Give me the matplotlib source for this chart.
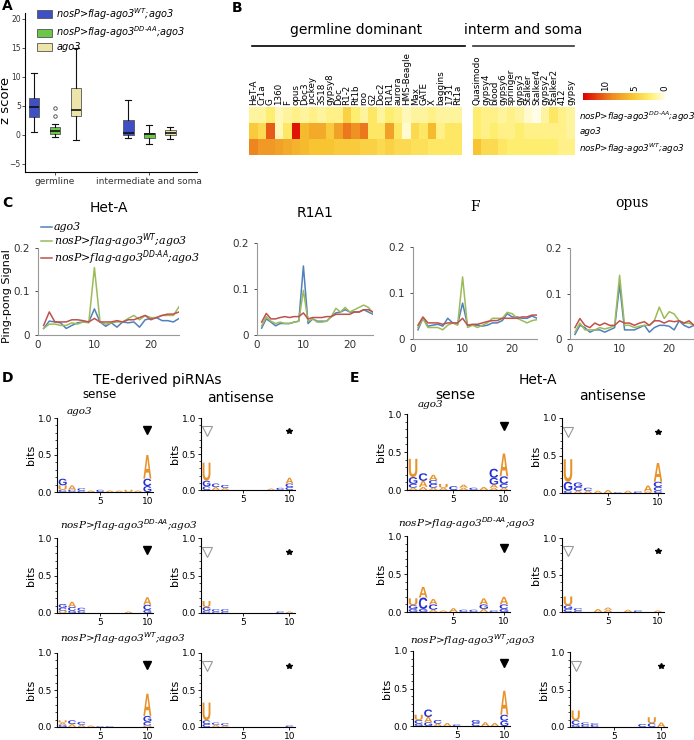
import numpy as np
import matplotlib
matplotlib.use('Agg')
import matplotlib.pyplot as plt
import matplotlib.transforms as mtransforms
from matplotlib.colors import LinearSegmentedColormap
from matplotlib.textpath import TextPath
from matplotlib.patches import PathPatch
from matplotlib.font_manager import FontProperties
from matplotlib.lines import Line2D

W, H = 694, 740

# ---------------- panel A data ----------------
box_groups = ['germline', 'intermediate and soma']
box_series = ['nosP>flag-ago3$^{WT}$;ago3', 'nosP>flag-ago3$^{DD\\text{-}AA}$;ago3', 'ago3']
box_colors = ['#3f4fc6', '#6cc748', '#ece4a8']
# whislo, q1, med, q3, whishi  (germline then interm)
box_wt = [[0.5, 3.1, 4.8, 6.3, 10.7], [-0.5, -0.1, 0.3, 2.5, 6.0]]
box_ddaa = [[-0.4, 0.1, 0.7, 1.3, 1.9], [-1.5, -0.5, 0.1, 0.4, 1.7]]
box_ago3 = [[-0.9, 3.2, 4.2, 8.1, 14.9], [-0.7, -0.1, 0.3, 0.9, 1.4]]
box_fliers_ddaa = [[3.2, 4.6], []]

# ---------------- panel B data ----------------
germ_tes = ['HeT-A', 'Cr1a', 'G', '1360', 'F', 'opus', 'Doc3', 'jockey', '3S18', 'gypsy8',
            'Doc', 'R1-2', 'Rt1b', 'roo', 'G2', 'Doc2', 'R1A1', 'aurora', 'HMS-Beagle',
            'Max', 'GATE', 'X', 'baggins', '1731', 'Rt1a']
soma_tes = ['Quasimodo', 'gypsy4', 'blood', 'gypsy6', 'springer', 'gypsy3', 'Stalker',
            'Stalker4', 'gypsy2', 'Stalker2', '412', 'gypsy']
heat_rows = ['nosP>flag-ago3$^{DD\\text{-}AA}$;ago3', 'ago3', 'nosP>flag-ago3$^{WT}$;ago3']
germ_ddaa = [1.5, 1.5, 2.5, 1.0, 1.5, 2.0, 1.5, 2.0, 1.5, 2.0, 2.0, 4.5, 2.5, 1.5, 3.0,
             1.5, 2.5, 2.0, 1.0, 1.5, 1.5, 2.0, 1.5, 1.5, 1.5]
germ_ago3 = [5.0, 4.0, 10.5, 1.0, 3.0, 13.0, 6.0, 7.0, 7.0, 5.0, 7.5, 9.5, 8.5, 9.5, 3.0,
             3.0, 7.5, 3.0, 0.5, 4.0, 3.0, 6.0, 2.0, 3.0, 3.0]
germ_wt = [9.0, 8.0, 8.0, 7.5, 7.0, 6.5, 6.0, 5.5, 5.5, 5.5, 5.0, 5.0, 5.0, 4.5, 4.5,
           4.0, 4.5, 4.0, 4.0, 3.5, 3.5, 3.0, 3.0, 3.0, 3.0]
soma_ddaa = [2.5, 2.0, 2.0, 1.5, 2.0, 1.5, 0.5, 0.0, 1.5, 3.0, 2.0, 1.5]
soma_ago3 = [2.5, 2.0, 2.5, 2.0, 2.0, 2.5, 2.0, 2.0, 2.0, 2.0, 2.0, 1.5]
soma_wt = [5.5, 4.0, 4.0, 3.0, 2.5, 2.5, 2.5, 2.5, 2.5, 2.5, 2.0, 2.0]
heat_ticks = [10, 5, 0]

# ---------------- panel C data ----------------
pp_pos = list(range(1, 26))
pp_titles = ['Het-A', 'R1A1', 'F', 'opus']
pp_labels = ['ago3', 'nosP>flag-ago3$^{WT}$;ago3', 'nosP>flag-ago3$^{DD\\text{-}AA}$;ago3']
hetA_ago3 = [0.015, 0.032, 0.030, 0.028, 0.015, 0.022, 0.028, 0.030, 0.030, 0.060, 0.030, 0.020, 0.028,
             0.018, 0.030, 0.028, 0.030, 0.018, 0.035, 0.038, 0.040, 0.033, 0.033, 0.030, 0.038]
hetA_wt = [0.015, 0.025, 0.025, 0.022, 0.022, 0.028, 0.025, 0.030, 0.028, 0.155, 0.030, 0.025, 0.028,
           0.030, 0.030, 0.038, 0.045, 0.035, 0.045, 0.040, 0.040, 0.045, 0.045, 0.045, 0.065]
hetA_ddaa = [0.022, 0.053, 0.030, 0.030, 0.030, 0.035, 0.035, 0.033, 0.030, 0.038, 0.030, 0.030, 0.030,
             0.033, 0.030, 0.035, 0.035, 0.040, 0.045, 0.035, 0.040, 0.045, 0.048, 0.048, 0.053]
r1a1_ago3 = [0.015, 0.035, 0.028, 0.020, 0.025, 0.025, 0.025, 0.028, 0.030, 0.150, 0.025, 0.035, 0.030,
             0.030, 0.030, 0.040, 0.048, 0.050, 0.055, 0.050, 0.050, 0.050, 0.055, 0.050, 0.045]
r1a1_wt = [0.020, 0.040, 0.030, 0.025, 0.028, 0.025, 0.025, 0.028, 0.030, 0.097, 0.030, 0.035, 0.028,
           0.028, 0.030, 0.040, 0.058, 0.050, 0.060, 0.050, 0.055, 0.060, 0.065, 0.060, 0.048]
r1a1_ddaa = [0.028, 0.047, 0.035, 0.035, 0.038, 0.040, 0.038, 0.040, 0.040, 0.048, 0.035, 0.038, 0.038,
             0.038, 0.040, 0.040, 0.045, 0.045, 0.045, 0.045, 0.050, 0.050, 0.055, 0.055, 0.050]
f_ago3 = [0.020, 0.045, 0.028, 0.030, 0.032, 0.028, 0.045, 0.035, 0.032, 0.078, 0.030, 0.030, 0.030,
          0.028, 0.030, 0.035, 0.035, 0.040, 0.055, 0.048, 0.048, 0.045, 0.045, 0.050, 0.045]
f_wt = [0.025, 0.045, 0.025, 0.025, 0.025, 0.020, 0.030, 0.035, 0.030, 0.135, 0.025, 0.030, 0.025,
        0.030, 0.035, 0.045, 0.045, 0.045, 0.058, 0.055, 0.045, 0.040, 0.035, 0.040, 0.042]
f_ddaa = [0.030, 0.048, 0.035, 0.035, 0.035, 0.032, 0.035, 0.035, 0.035, 0.045, 0.030, 0.032, 0.032,
          0.035, 0.038, 0.040, 0.040, 0.045, 0.045, 0.045, 0.045, 0.048, 0.048, 0.052, 0.052]
opus_ago3 = [0.010, 0.030, 0.025, 0.015, 0.020, 0.020, 0.015, 0.020, 0.025, 0.120, 0.020, 0.020, 0.020,
             0.025, 0.030, 0.015, 0.025, 0.030, 0.030, 0.028, 0.020, 0.040, 0.030, 0.025, 0.030]
opus_wt = [0.015, 0.035, 0.020, 0.020, 0.020, 0.025, 0.022, 0.025, 0.030, 0.140, 0.030, 0.030, 0.025,
           0.028, 0.030, 0.030, 0.040, 0.070, 0.045, 0.060, 0.055, 0.040, 0.035, 0.035, 0.030]
opus_ddaa = [0.025, 0.045, 0.030, 0.025, 0.035, 0.030, 0.035, 0.030, 0.030, 0.040, 0.035, 0.035, 0.030,
             0.035, 0.038, 0.030, 0.040, 0.040, 0.035, 0.040, 0.038, 0.040, 0.035, 0.040, 0.030]

# ---------------- panels D/E data: logo stacks (letter, bits), bottom to top ----------------
logo_rows = ['ago3', 'nosP>flag-ago3$^{DD\\text{-}AA}$;ago3', 'nosP>flag-ago3$^{WT}$;ago3']
d_sense_ago3 = [[('C', .03), ('U', .06), ('G', .09)], [('C', .03), ('A', .06)], [('C', .02), ('C', .03)],
                [('A', .02)], [('C', .03)], [('A', .02)], [('A', .02)], [('U', .03)], [('A', .02)],
                [('G', .08), ('C', .1), ('A', .32)]]
d_anti_ago3 = [[('C', .05), ('G', .08), ('U', .25)], [('A', .04), ('C', .05)], [('A', .03), ('C', .04)],
               [], [], [], [], [('A', .02)], [('C', .03)], [('C', .04), ('C', .05), ('A', .08)]]
d_sense_ddaa = [[('U', .03), ('C', .04), ('G', .05)], [('G', .03), ('C', .05), ('A', .07)],
                [('C', .03), ('C', .04)], [], [], [], [], [('A', .02)], [],
                [('G', .04), ('C', .07), ('A', .1)]]
d_anti_ddaa = [[('C', .03), ('G', .05), ('U', .08)], [('C', .02), ('C', .03)], [('C', .02), ('C', .03)],
               [], [], [], [], [], [('C', .02)], [('A', .02)]]
d_sense_wt = [[('G', .03), ('A', .03), ('U', .03)], [('A', .04), ('C', .05)], [('A', .03), ('C', .04)],
              [('A', .02)], [('C', .01)], [('C', .01)], [], [], [],
              [('U', .02), ('C', .05), ('G', .08), ('A', .3)]]
d_anti_wt = [[('C', .04), ('C', .05), ('U', .24)], [('A', .03), ('C', .03)], [('A', .02), ('C', .03)],
             [], [], [], [], [], [], [('C', .02)]]
e_sense_ago3 = [[('A', .03), ('C', .05), ('G', .09), ('U', .24)], [('A', .04), ('A', .08), ('C', .1)],
                [('A', .03), ('C', .05), ('C', .05), ('A', .07)], [('A', .03), ('U', .05)], [('C', .05)],
                [('A', .03), ('A', .04)], [('C', .03)], [('A', .04)],
                [('A', .03), ('A', .04), ('G', .09), ('C', .12)], [('A', .03), ('C', .05), ('C', .1), ('A', .3)]]
e_anti_ago3 = [[('C', .03), ('G', .12), ('U', .3)], [('A', .03), ('C', .05), ('G', .06)],
               [('A', .03), ('C', .04)], [('A', .03)], [('A', .04)], [('C', .01)], [('A', .03)], [('C', .02)],
               [('A', .02), ('A', .08)], [('C', .03), ('C', .05), ('C', .07), ('A', .25)]]
e_sense_ddaa = [[('G', .04), ('G', .05), ('U', .09)], [('G', .04), ('C', .15), ('A', .14)],
                [('A', .03), ('C', .07), ('A', .07)], [('A', .02)], [('A', .05)], [('C', .03)],
                [('C', .03)], [('A', .04), ('G', .06), ('A', .08)], [('C', .02)],
                [('G', .04), ('C', .06), ('A', .1)]]
e_anti_ddaa = [[('C', .04), ('G', .05), ('U', .12)], [('C', .02), ('C', .03)], [], [('A', .04)],
               [('A', .03), ('A', .03)], [], [('A', .03)], [('C', .02)], [], [('A', .02)]]
e_sense_wt = [[('G', .03), ('C', .05), ('U', .07)], [('G', .05), ('A', .07), ('C', .1)],
              [('A', .03), ('C', .05)], [('A', .04)], [('C', .02)], [], [('C', .04), ('G', .04)],
              [('A', .05)], [('A', .04)], [('G', .07), ('C', .08), ('A', .32)]]
e_anti_wt = [[('G', .03), ('C', .06), ('U', .13)], [('C', .03), ('C', .03)], [('C', .03), ('C', .02)],
             [], [], [], [], [('C', .04)], [('C', .05), ('U', .08)], [('A', .06)]]


def px(l, t, r, b):
    return [l / W, 1 - b / H, (r - l) / W, (b - t) / H]


fig = plt.figure(figsize=(W / 100, H / 100), dpi=100)
sans = 'DejaVu Sans'

# ---------------- A ----------------
axA = fig.add_axes(px(25, 13, 197, 172))
pos_groups = [[-1, 0, 1], [3.48, 4.48, 5.48]]
for gi in range(2):
    for si, (vals, col) in enumerate(zip([box_wt, box_ddaa, box_ago3], box_colors)):
        lo, q1, med, q3, hi = vals[gi]
        fl = box_fliers_ddaa[gi] if si == 1 else []
        st = dict(whislo=lo, q1=q1, med=med, q3=q3, whishi=hi, fliers=fl)
        axA.bxp([st], positions=[pos_groups[gi][si]], widths=0.52, patch_artist=True,
                boxprops=dict(facecolor=col, edgecolor='#555555', lw=0.6),
                medianprops=dict(color='#111111', lw=1.2),
                whiskerprops=dict(color='#111111', lw=0.8), capprops=dict(color='#111111', lw=0.8),
                flierprops=dict(marker='o', ms=2.5, mfc='none', mec='#444444', mew=0.6),
                capwidths=0.3)
axA.set_xlim(-1.43, 6.76)
axA.set_ylim(-6.4, 21)
axA.set_yticks([-5, 0, 5, 10, 15, 20])
axA.set_xticks([0, 4.48])
axA.set_xticklabels(box_groups)
axA.tick_params(labelsize=6.5, length=2, width=0.6, colors='#333333', pad=1.5)
axA.tick_params(axis='y', labelsize=5.5, pad=1)
for s in ['top', 'right']:
    axA.spines[s].set_visible(False)
for s in ['left', 'bottom']:
    axA.spines[s].set_linewidth(0.8)
fig.text(5.5 / W, 1 - 100 / H, 'z score', rotation=90, fontsize=9.5, ha='center', va='center')
handles = [plt.Rectangle((0, 0), 1, 1, fc=c, ec='#555555', lw=0.6) for c in box_colors]
fig.legend(handles, box_series, loc='upper left', bbox_to_anchor=(33 / W, 1 - 2 / H), frameon=False,
           prop=dict(size=7, style='italic'), handlelength=1.6, handleheight=0.9,
           labelspacing=0.25, handletextpad=0.4, borderaxespad=0)

# ---------------- B ----------------
cmap = LinearSegmentedColormap.from_list('heat', [(0, '#fffde8'), (0.18, '#ffef70'), (0.4, '#f8c432'),
                                                  (0.65, '#ee8a22'), (1, '#dd0000')])
vmax = 13.7
axB1 = fig.add_axes(px(249, 107, 462, 155))
axB2 = fig.add_axes(px(473, 107, 575, 155))
im = axB1.imshow(np.array([germ_ddaa, germ_ago3, germ_wt]), cmap=cmap, vmin=0, vmax=vmax, aspect='auto')
axB2.imshow(np.array([soma_ddaa, soma_ago3, soma_wt]), cmap=cmap, vmin=0, vmax=vmax, aspect='auto')
for ax, names in [(axB1, germ_tes), (axB2, soma_tes)]:
    ax.xaxis.tick_top()
    ax.set_xticks(range(len(names)))
    ax.set_xticklabels(names, rotation=90, fontsize=6.3)
    ax.tick_params(length=0, pad=1.5)
    ax.set_yticks([])
    for s in ax.spines.values():
        s.set_visible(False)
axB2.yaxis.tick_right()
axB2.set_yticks(range(3))
axB2.set_yticklabels(heat_rows, fontsize=6.3, style='italic')
axB2.tick_params(axis='y', length=0, pad=3)
cax = fig.add_axes(px(583, 93, 665, 100))
cb = fig.colorbar(im, cax=cax, orientation='horizontal')
cb.outline.set_visible(False)
cax.invert_xaxis()
cax.xaxis.set_ticks_position('top')
cb.set_ticks(heat_ticks)
cax.tick_params(labelsize=6.3, length=0, pad=1.5, labelrotation=90)
fig.text(356 / W, 1 - 37 / H, 'germline dominant', ha='center', va='bottom', fontsize=10)
fig.text(523 / W, 1 - 37 / H, 'interm and soma', ha='center', va='bottom', fontsize=10)
fig.add_artist(Line2D([252 / W, 465 / W], [1 - 46 / H] * 2, color='k', lw=1.2))
fig.add_artist(Line2D([473 / W, 574 / W], [1 - 46 / H] * 2, color='#333333', lw=1.2))

# ---------------- C ----------------
pp_boxes = [(38, 248, 179, 335), (257, 243, 373, 335), (413, 247, 537, 339), (570, 248, 694, 339)]
pp_data = [(hetA_ago3, hetA_wt, hetA_ddaa), (r1a1_ago3, r1a1_wt, r1a1_ddaa),
           (f_ago3, f_wt, f_ddaa), (opus_ago3, opus_wt, opus_ddaa)]
pp_colors = ['#4f81bd', '#9bbb59', '#c0504d']
pp_title_y = [208, 213, 207, 203]
for i, (b, series, title) in enumerate(zip(pp_boxes, pp_data, pp_titles)):
    ax = fig.add_axes(px(*b))
    for ys, c, lab in zip(series, pp_colors, pp_labels):
        ax.plot(pp_pos, ys, color=c, lw=1.1, label=lab)
    ax.set_xlim(0, 25)
    ax.set_ylim(0, 0.2)
    ax.set_xticks([0, 10, 20])
    ax.set_yticks([0, 0.1, 0.2])
    ax.set_yticklabels(['0', '0.1', '0.2'])
    ax.tick_params(labelsize=7.5, length=2, width=0.6, colors='#333333')
    ax.tick_params(axis='x', length=0)
    for s in ['top', 'right']:
        ax.spines[s].set_visible(False)
    for s in ['left', 'bottom']:
        ax.spines[s].set_color('#999999')
        ax.spines[s].set_linewidth(0.8)
    fam = sans if i < 2 else 'DejaVu Serif'
    fig.text((b[0] + b[2]) / 2 / W, 1 - pp_title_y[i] / H, title, fontsize=10, family=fam,
             ha='center', va='center')
    if i == 0:
        ax.legend(loc='upper left', bbox_to_anchor=(37 / W, 1 - 218 / H), bbox_transform=fig.transFigure,
                  frameon=False, handlelength=1.0, handletextpad=0.15, labelspacing=-0.1,
                  borderaxespad=0, prop=dict(family='DejaVu Serif', style='italic', size=7.9))
fig.text(7 / W, 1 - 296 / H, 'Ping-pong Signal', rotation=90, fontsize=8, ha='center', va='center')

# ---------------- D / E logos ----------------
fp = FontProperties(family='Liberation Sans', weight='bold')
letter_col = {'A': '#e8922a', 'U': '#e8922a', 'C': '#2430d0', 'G': '#2430d0'}


def draw_logo(ax, stacks):
    for p, stack in enumerate(stacks, start=1):
        y = 0
        for letter, h in stack:
            tp = TextPath((0, 0), letter, size=1, prop=fp)
            bb = tp.get_extents()
            tr = (mtransforms.Affine2D().translate(-bb.x0, -bb.y0)
                  .scale(0.85 / bb.width, h / bb.height).translate(p - 0.425, y))
            ax.add_patch(PathPatch(tr.transform_path(tp), fc=letter_col[letter], ec='none'))
            y += h


logo_boxes = [
    [(57, 418, 153, 492, d_sense_ago3, 's'), (201, 418, 295, 490, d_anti_ago3, 'a'),
     (407, 414, 510, 490, e_sense_ago3, 's'), (562, 418, 664, 493, e_anti_ago3, 'a')],
    [(57, 538, 153, 613, d_sense_ddaa, 's'), (201, 538, 295, 613, d_anti_ddaa, 'a'),
     (407, 536, 510, 612, e_sense_ddaa, 's'), (562, 538, 664, 612, e_anti_ddaa, 'a')],
    [(57, 653, 153, 727, d_sense_wt, 's'), (201, 653, 295, 727, d_anti_wt, 'a'),
     (413, 651, 510, 726, e_sense_wt, 's'), (570, 652, 667, 727, e_anti_wt, 'a')],
]
for row in logo_boxes:
    for (l, t, r, b, stacks, kind) in row:
        ax = fig.add_axes(px(l, t, r, b))
        draw_logo(ax, stacks)
        ax.set_xlim(0.4, 10.6)
        ax.set_ylim(0, 1.0)
        ax.set_yticks([0, 0.5, 1.0])
        ax.set_yticklabels(['0.0', '0.5', '1.0'])
        ax.set_yticks(np.arange(0, 1.01, 0.1), minor=True)
        ax.set_xticks([5, 10])
        ax.tick_params(labelsize=6.5, length=2.5, width=0.6, pad=1)
        ax.tick_params(which='minor', length=1.5, width=0.5)
        for s in ['top', 'right']:
            ax.spines[s].set_visible(False)
        for s in ['left', 'bottom']:
            ax.spines[s].set_linewidth(0.8)
        ax.set_ylabel('bits', fontsize=8, labelpad=1)
        if kind == 's':
            ax.plot(10, 0.84, marker='v', color='k', ms=6, clip_on=False)
        else:
            ax.plot(1, 0.82, marker='v', mfc='white', mec='#999999', ms=6.5, mew=0.8, clip_on=False)
            ax.plot(10, 0.82, marker='*', color='k', ms=4, clip_on=False)

# row labels over logos
for x, y, lab in [(67, 411, logo_rows[0]), (60, 525, logo_rows[1]), (60, 638, logo_rows[2]),
                  (418, 405, logo_rows[0]), (398, 523, logo_rows[1]), (410, 640, logo_rows[2])]:
    fig.text(x / W, 1 - y / H, lab, fontsize=7.5, family='DejaVu Serif', style='italic', va='center')

# headers
fig.text(93 / W, 1 - 380 / H, 'TE-derived piRNAs', fontsize=10, va='center')
fig.text(100 / W, 1 - 395 / H, 'sense', fontsize=8.5, va='center', ha='center')
fig.text(240 / W, 1 - 398 / H, 'antisense', fontsize=10, va='center', ha='center')
fig.text(538 / W, 1 - 380 / H, 'Het-A', fontsize=10, va='center', ha='center')
fig.text(455 / W, 1 - 395 / H, 'sense', fontsize=10, va='center', ha='center')
fig.text(612 / W, 1 - 396 / H, 'antisense', fontsize=10, va='center', ha='center')

# panel letters
for x, y, s in [(2, 6, 'A'), (232, 8, 'B'), (2, 203, 'C'), (2, 378, 'D'), (350, 378, 'E')]:
    fig.text(x / W, 1 - y / H, s, fontsize=10, weight='bold', va='center')

fig.savefig('out.png', dpi=100)
